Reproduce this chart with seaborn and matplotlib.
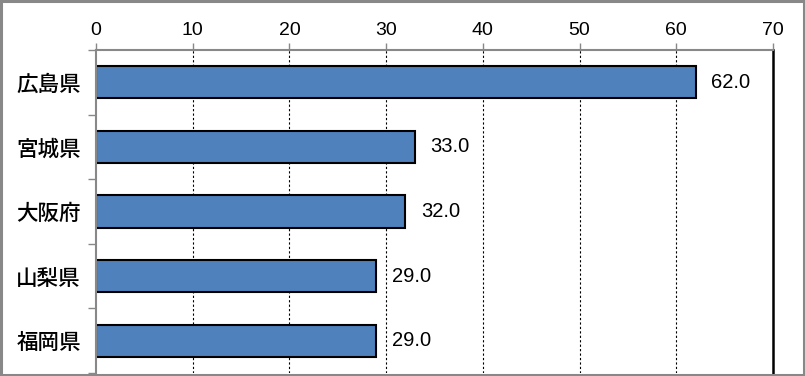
import matplotlib
matplotlib.use("Agg")
import matplotlib.pyplot as plt
import seaborn as sns
import pandas as pd
from matplotlib.patches import Rectangle

categories = ["広島県", "宮城県", "大阪府", "山梨県", "福岡県"]
values = [62.0, 33.0, 32.0, 29.0, 29.0]
xticks = [0, 10, 20, 30, 40, 50, 60, 70]

sns.set_theme(style="white")
plt.rcParams['font.family'] = ['Noto Sans CJK JP', 'DejaVu Sans']
plt.rcParams['text.color'] = 'black'

df = pd.DataFrame({"pref": categories, "val": values})

fig = plt.figure(figsize=(8.05, 3.76), dpi=100)
ax = fig.add_axes([96/805, 1-373/376, (773-96)/805, (373-50)/376])

sns.barplot(data=df, x="val", y="pref", orient="h", color="#4F81BD",
            saturation=1, width=0.5, edgecolor="black", linewidth=1.5, ax=ax)

ax.set_xlim(0, 70)
ax.set_ylim(4.5, -0.5)
ax.set_xticks(xticks)
ax.xaxis.tick_top()
ax.tick_params(axis='x', which='major', direction='out', length=5, color='#888888',
               width=1, labelsize=14, pad=3, labelcolor='black')
ax.set_xticklabels([str(t) for t in xticks], family=['Liberation Sans', 'DejaVu Sans'])

ax.set_yticks(range(len(categories)))
ax.set_yticklabels(categories, fontsize=15.5, color='black', fontweight='medium')
ax.tick_params(axis='y', which='major', length=0, pad=11)
ax.set_yticks([-0.5, 0.5, 1.5, 2.5, 3.5, 4.5], minor=True)
ax.tick_params(axis='y', which='minor', direction='out', length=6, color='#888888', width=1, left=True)
ax.set_xlabel("")
ax.set_ylabel("")

for x in xticks[1:-1]:
    ax.axvline(x, color='black', lw=0.8, ls=(0, (2, 2)), zorder=0)

for s in ['left', 'top']:
    ax.spines[s].set_color('#888888')
    ax.spines[s].set_linewidth(1.5)
ax.spines['right'].set_color('black')
ax.spines['right'].set_linewidth(1.8)
ax.spines['bottom'].set_visible(False)

for i, v in enumerate(values):
    ax.annotate(f"{v:.1f}", xy=(v, i), xytext=(11, 0), textcoords='offset points',
                va='center', ha='left', fontsize=14.5, color='black',
                family=['Liberation Sans', 'DejaVu Sans'])

fig.patches.append(Rectangle((0.0015, 0.002), 0.997, 0.995, transform=fig.transFigure,
                             fill=False, edgecolor='#888888', linewidth=2.2))

fig.savefig("out.png", dpi=100)
